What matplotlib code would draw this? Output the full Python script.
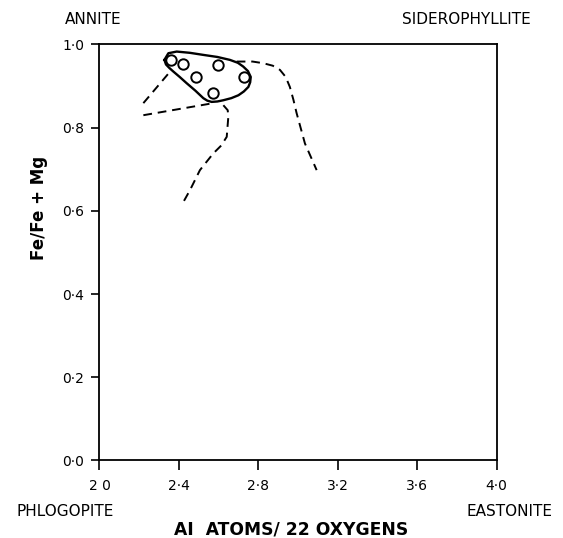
import matplotlib
matplotlib.use("Agg")
import matplotlib.pyplot as plt

# ---- data ----
xticks = [2.0, 2.4, 2.8, 3.2, 3.6, 4.0]
xticklabels = ["2 0", "2·4", "2·8", "3·2", "3·6", "4·0"]
yticks = [0.0, 0.2, 0.4, 0.6, 0.8, 1.0]
yticklabels = ["0·0", "0·2", "0·4", "0·6", "0·8", "1·0"]

sample_al = [2.360, 2.422, 2.488, 2.598, 2.726, 2.572]
sample_fe = [0.963, 0.954, 0.923, 0.951, 0.923, 0.883]

loop_al = [2.327, 2.347, 2.389, 2.455, 2.523, 2.594, 2.657, 2.697, 2.724, 2.748, 2.762,
           2.759, 2.750, 2.727, 2.700, 2.664, 2.624, 2.594, 2.565, 2.543, 2.523,
           2.483, 2.439, 2.404, 2.372, 2.351, 2.335, 2.327]
loop_fe = [0.963, 0.979, 0.983, 0.980, 0.975, 0.970, 0.963, 0.956, 0.947, 0.936, 0.922,
           0.909, 0.898, 0.887, 0.878, 0.871, 0.866, 0.863, 0.862, 0.865, 0.871,
           0.889, 0.907, 0.922, 0.935, 0.944, 0.952, 0.963]

dash1_al = [2.221, 2.356]
dash1_fe = [0.859, 0.935]

dash2_al = [2.221, 2.573]
dash2_fe = [0.830, 0.859]

dash3_al = [2.624, 2.646, 2.649, 2.641, 2.613, 2.573, 2.506, 2.456, 2.414]
dash3_fe = [0.854, 0.842, 0.826, 0.778, 0.757, 0.738, 0.698, 0.650, 0.614]

dash4_al = [2.691, 2.771, 2.825, 2.873, 2.909, 2.938, 2.959, 2.977, 2.993, 3.035, 3.094]
dash4_fe = [0.959, 0.959, 0.955, 0.949, 0.939, 0.922, 0.898, 0.867, 0.835, 0.762, 0.698]

# ---- figure ----
fig = plt.figure(figsize=(5.63, 5.38), dpi=100)
ax = fig.add_axes([0.1767, 0.1441, 0.7052, 0.7732])
ax.set_xlim(2.0, 4.0)
ax.set_ylim(0.0, 1.0)

dash_kw = dict(color="black", lw=1.4, linestyle=(0, (4.5, 3)))
ax.plot(dash1_al, dash1_fe, **dash_kw)
ax.plot(dash2_al, dash2_fe, **dash_kw)
ax.plot(dash3_al, dash3_fe, **dash_kw)
ax.plot(dash4_al, dash4_fe, **dash_kw)

ax.plot(loop_al, loop_fe, color="black", lw=1.7, solid_joinstyle="round")
ax.plot(sample_al, sample_fe, linestyle="none", marker="o", markersize=7.5,
        markerfacecolor="white", markeredgecolor="black", markeredgewidth=1.4)

ax.set_xticks(xticks)
ax.set_xticklabels(xticklabels)
ax.set_yticks(yticks)
ax.set_yticklabels(yticklabels)
ax.tick_params(axis="x", direction="out", length=7, width=1.2, labelsize=10, pad=6)
ax.tick_params(axis="y", direction="out", length=6, width=1.2, labelsize=10, pad=5)
for s in ax.spines.values():
    s.set_linewidth(1.3)

ax.set_xlabel("AI  ATOMS/ 22 OXYGENS", fontsize=12.3, fontweight="bold")
ax.xaxis.set_label_coords((291 - 99.5) / 397, (460.5 - 530) / 416)
ax.xaxis.label.set_va("center")
ax.set_ylabel("Fe/Fe + Mg", fontsize=12, fontweight="bold")
ax.yaxis.set_label_coords(-0.152, 0.607)
ax.yaxis.label.set_va("center")

fig.text(64.5 / 563, 1 - 19.5 / 538, "ANNITE", fontsize=11, ha="left", va="center")
fig.text(531 / 563, 1 - 19.5 / 538, "SIDEROPHYLLITE", fontsize=11, ha="right", va="center")
fig.text(16 / 563, 1 - 511 / 538, "PHLOGOPITE", fontsize=11, ha="left", va="center")
fig.text(553 / 563, 1 - 511 / 538, "EASTONITE", fontsize=11, ha="right", va="center")

fig.savefig("out.png", dpi=100)
